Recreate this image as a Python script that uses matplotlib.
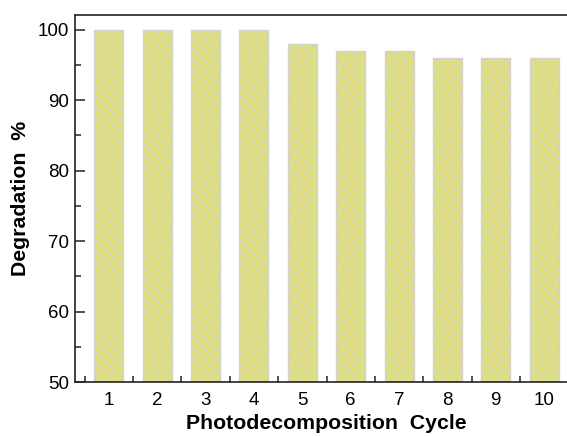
import matplotlib
matplotlib.use("Agg")
import matplotlib.pyplot as plt
from matplotlib.ticker import MultipleLocator, FixedLocator

cycles = [1, 2, 3, 4, 5, 6, 7, 8, 9, 10]
degradation = [100, 100, 100, 100, 98, 97, 97, 96, 96, 96]
tick_labels = [str(c) for c in cycles]

plt.rcParams['font.family'] = ['Liberation Sans', 'DejaVu Sans']
plt.rcParams['hatch.color'] = '#c4c4a4'
plt.rcParams['hatch.linewidth'] = 1.0

fig = plt.figure(figsize=(5.67, 4.36), dpi=100)
ax = fig.add_axes([75/567, 54/436, (578-75)/567, (382-15)/436])

ax.bar(cycles, degradation, width=0.6, color='#dfdf7e', edgecolor='#d2d2cc',
       linewidth=1.0, hatch='\\\\\\')

ax.set_xlim(0.3, 10.7)
ax.set_ylim(50, 102.1)
ax.set_xticks(cycles)
ax.set_xticklabels(tick_labels)
ax.xaxis.set_minor_locator(FixedLocator([c - 0.5 for c in cycles] + [10.5]))
ax.yaxis.set_major_locator(MultipleLocator(10))
ax.yaxis.set_minor_locator(MultipleLocator(5))

ax.tick_params(axis='both', which='major', direction='in', length=7, width=1.1,
               labelsize=13.5, colors='#222222', labelcolor='black')
ax.tick_params(axis='x', which='major', length=0, pad=7)
ax.tick_params(axis='both', which='minor', direction='in', length=4, width=1.1,
               colors='#222222')
ax.tick_params(axis='y', which='major', pad=4)

for side in ['left', 'bottom', 'top', 'right']:
    ax.spines[side].set_linewidth(1.2)
    ax.spines[side].set_color('#222222')

ax.set_xlabel('Photodecomposition  Cycle', fontsize=15.3, fontweight='bold', labelpad=4)
ax.set_ylabel('Degradation  %', fontsize=15.3, fontweight='bold', labelpad=6)

fig.savefig('out.png', dpi=100)
